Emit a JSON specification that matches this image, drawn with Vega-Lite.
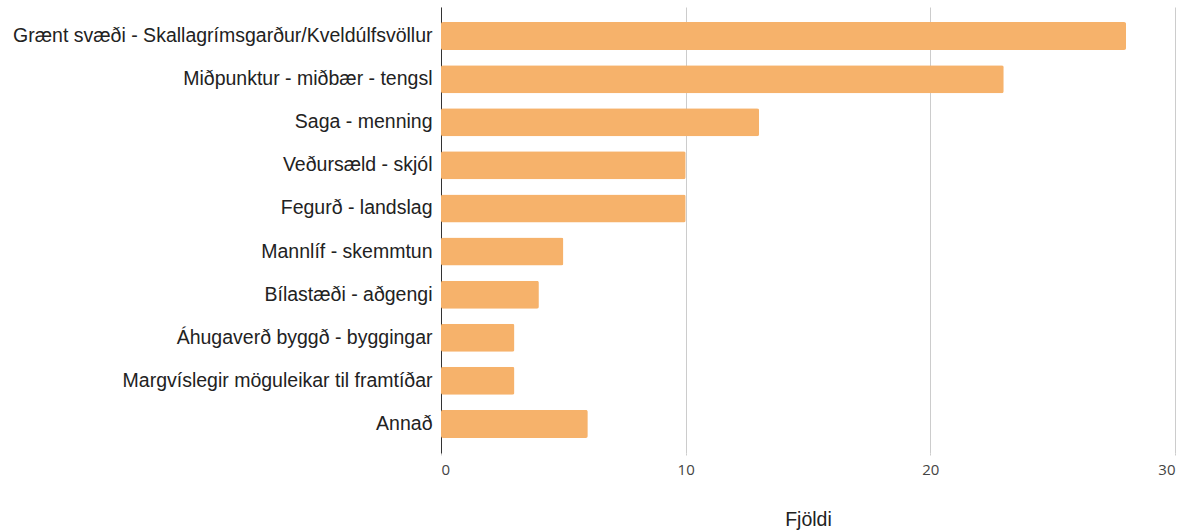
{
  "$schema": "https://vega.github.io/schema/vega-lite/v6.json",
  "width": 734,
  "height": 446,
  "autosize": {"type": "none"},
  "padding": {"left": 441, "top": 7, "right": 16, "bottom": 78},
  "background": "#ffffff",
  "config": {"view": {"stroke": null}},
  "data": {
    "values": [
      {"category": "Grænt svæði - Skallagrímsgarður/Kveldúlfsvöllur", "count": 28, "order": 1},
      {"category": "Miðpunktur - miðbær - tengsl", "count": 23, "order": 2},
      {"category": "Saga - menning", "count": 13, "order": 3},
      {"category": "Veðursæld - skjól", "count": 10, "order": 4},
      {"category": "Fegurð - landslag", "count": 10, "order": 5},
      {"category": "Mannlíf - skemmtun", "count": 5, "order": 6},
      {"category": "Bílastæði - aðgengi", "count": 4, "order": 7},
      {"category": "Áhugaverð byggð - byggingar", "count": 3, "order": 8},
      {"category": "Margvíslegir möguleikar til framtíðar", "count": 3, "order": 9},
      {"category": "Annað", "count": 6, "order": 10}
    ]
  },
  "mark": {"type": "bar", "color": "#F6B26B", "cornerRadius": 2},
  "encoding": {
    "y": {
      "field": "category",
      "type": "nominal",
      "sort": {"field": "order", "order": "ascending"},
      "scale": {"paddingInner": 0.35, "paddingOuter": 0.35},
      "axis": {
        "title": null,
        "ticks": false,
        "domain": true,
        "domainColor": "#333333",
        "domainWidth": 1,
        "labelFont": "Liberation Sans",
        "labelFontSize": 19.5,
        "labelColor": "#222222",
        "labelPadding": 9,
        "labelLimit": 500
      }
    },
    "x": {
      "field": "count",
      "type": "quantitative",
      "scale": {"domain": [0, 30], "nice": false},
      "axis": {
        "values": [0, 10, 20, 30],
        "title": "Fjöldi",
        "titleFont": "Liberation Sans",
        "titleFontSize": 19.5,
        "titleFontWeight": "normal",
        "titleColor": "#222222",
        "titlePadding": 33,
        "domain": false,
        "grid": true,
        "gridColor": "#cccccc",
        "gridWidth": 1,
        "ticks": true,
        "tickColor": "#cccccc",
        "tickSize": 2,
        "labelFont": "Open Sans",
        "labelFontSize": 15,
        "labelColor": "#444444",
        "labelPadding": 7
      }
    }
  }
}
